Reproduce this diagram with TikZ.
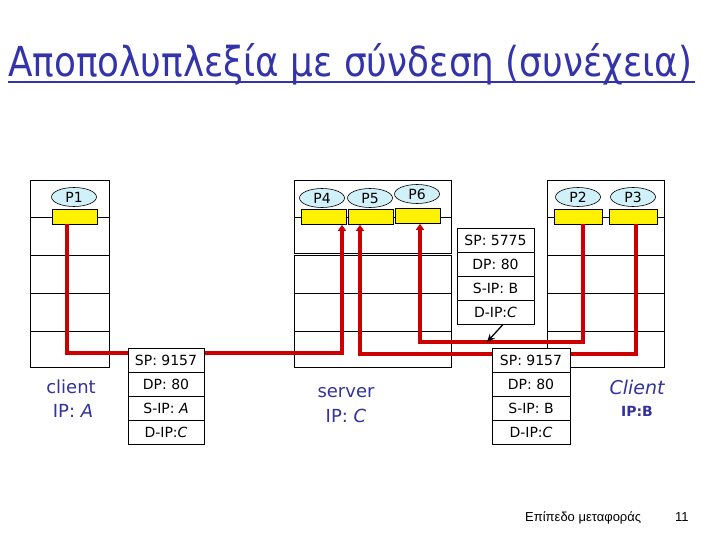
\documentclass[tikz,border=0pt]{standalone}
\usepackage{fontspec}
\setmainfont{DejaVu Sans}
\newfontfamily\footfont{Liberation Sans}
\usetikzlibrary{arrows.meta,shapes.geometric,calc}
\definecolor{titleblue}{RGB}{51,51,170}
\definecolor{procfill}{RGB}{208,240,250}
\definecolor{linkred}{RGB}{204,0,0}
\definecolor{hostblue}{RGB}{51,51,153}
\begin{document}
\begin{tikzpicture}[x=1pt,y=-1pt,
  hostline/.style={draw, line width=0.9pt},
  proc/.style={ellipse, draw, line width=0.6pt, fill=procfill, minimum width=45pt, minimum height=19pt, inner sep=0pt, font=\fontsize{14}{14}\selectfont},
  sock/.style={draw, line width=0.7pt, fill=yellow, minimum width=45pt, minimum height=15pt, inner sep=0pt},
  flow/.style={linkred, line width=3.3pt},
  flowarrow/.style={flow, -{Triangle[length=6pt,width=8pt]}},
  field/.style={draw, line width=0.9pt, fill=white, minimum width=76pt, minimum height=24pt, inner sep=0pt, font=\fontsize{14}{14}\selectfont},
  hostlabel/.style={text=hostblue, inner sep=0pt, font=\fontsize{18}{18}\selectfont}
]
\useasboundingbox (0,0) rectangle (720,540);
\fill[white] (0,0) rectangle (720,540);

% title
\node[anchor=base west, inner sep=0pt, text=titleblue] (title) at (8,77)
  {\resizebox{684pt}{33pt}{Αποπολυπλεξία με σύνδεση (συνέχεια)}};
\draw[titleblue, line width=2.8pt] ($(title.base west)+(0,5)$) -- ($(title.base east)+(3,5)$);

% left client host
\node[hostline, minimum width=79pt, minimum height=187pt, inner sep=0pt] (hostA) at (69.5,273.5) {};
\draw[hostline] (30,217) -- (109,217);
\draw[hostline] (30,255) -- (109,255);
\draw[hostline] (30,293) -- (109,293);
\draw[hostline] (30,331) -- (109,331);
\node[sock] (s1) at (75,216.5) {};
\node[proc] (p1) at (74,197) {P1};

% server host
\node[hostline, minimum width=157pt, minimum height=73pt, inner sep=0pt] (srvTop) at (372.5,216.5) {};
\node[hostline, minimum width=157pt, minimum height=112pt, inner sep=0pt] (srvBot) at (372.5,311) {};
\draw[hostline] (294,217) -- (451,217);
\draw[hostline] (294,293) -- (451,293);
\draw[hostline] (294,331) -- (451,331);
\node[sock] (s4) at (323.5,217) {};
\node[sock] (s5) at (371,217) {};
\node[sock] (s6) at (418,216) {};
\node[proc] (p4) at (322,198) {P4};
\node[proc] (p5) at (370,198) {P5};
\node[proc] (p6) at (417,194) {P6};

% right client host
\node[hostline, minimum width=117pt, minimum height=187pt, inner sep=0pt] (hostB) at (605.5,273.5) {};
\draw[hostline] (547,217) -- (664,217);
\draw[hostline] (547,255) -- (664,255);
\draw[hostline] (547,293) -- (664,293);
\draw[hostline] (547,331) -- (664,331);
\node[sock, minimum width=48pt] (s2) at (578,216.5) {};
\node[sock, minimum width=48pt] (s3) at (633,216.5) {};
\node[proc] (p2) at (578,197) {P2};
\node[proc] (p3) at (633,197) {P3};

% red flows
\coordinate (a1) at (67,353);
\coordinate (a2) at (342,353);
\draw[flowarrow] (a1 |- s1.south) -- (a1) -- (a2) -- (a2 |- s4.south);
\coordinate (b1) at (636,354);
\coordinate (b2) at (360,354);
\draw[flowarrow] (b1 |- s3.south) -- (b1) -- (b2) -- (b2 |- s5.south);
\coordinate (c1) at (583,342);
\coordinate (c2) at (420,342);
\draw[flowarrow] (c1 |- s2.south) -- (c1) -- (c2) -- (c2 |- s6.south);

% packet from A
\node[field] (a-sp) at (166,360) {SP: 9157};
\node[field] (a-dp) at (166,384) {DP: 80};
\node[field] (a-sip) at (166,408) {S-IP: \textit{A}};
\node[field] (a-dip) at (166,432) {D-IP:\textit{C}};

% packet 5775 from B
\node[field, minimum width=77pt] (d-sp) at (495.5,240) {SP: 5775};
\node[field, minimum width=77pt] (d-dp) at (495.5,264) {DP: 80};
\node[field, minimum width=77pt] (d-sip) at (495.5,288) {S-IP: B};
\node[field, minimum width=77pt] (d-dip) at (495.5,312) {D-IP:\textit{C}};
\coordinate (dtip) at (487,342);
\draw[line width=1.3pt, -{Stealth[length=8pt,width=7pt]}] (d-dip.south -| 503,0) -- (dtip);

% packet 9157 from B
\node[field, minimum width=78pt] (e-sp) at (531,360) {SP: 9157};
\node[field, minimum width=78pt] (e-dp) at (531,384) {DP: 80};
\node[field, minimum width=78pt] (e-sip) at (531,408) {S-IP: B};
\node[field, minimum width=78pt] (e-dip) at (531,432) {D-IP:\textit{C}};

% host labels
\node[hostlabel] (la1) at (71,387) {client};
\node[hostlabel] (la2) at (73,411) {IP: \textit{A}};
\node[hostlabel] (lc1) at (346,393) {server};
\node[hostlabel] (lc2) at (346,416) {IP: \textit{C}};
\node[hostlabel, font=\fontsize{19}{19}\selectfont\itshape] (lb1) at (637,387) {Client};
\node[hostlabel, font=\fontsize{14}{14}\selectfont\bfseries] (lb2) at (637,411) {IP:B};

% footer
\node[anchor=base west, inner sep=0pt, font=\footfont\fontsize{13}{13}\selectfont] (foot) at (525,521) {Επίπεδο μεταφοράς};
\node[anchor=base west, inner sep=0pt, font=\footfont\fontsize{13}{13}\selectfont] (page) at (675,521) {11};
\end{tikzpicture}
\end{document}
